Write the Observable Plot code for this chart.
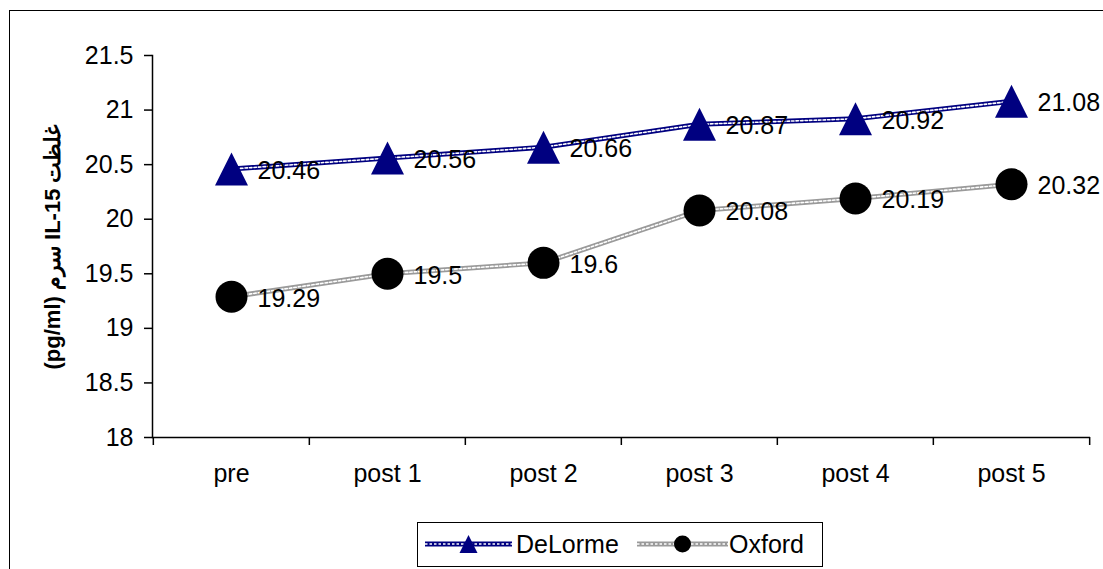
<!DOCTYPE html>
<html>
<head>
<meta charset="utf-8">
<script src="https://cdn.jsdelivr.net/npm/d3@7"></script>
<script src="https://cdn.jsdelivr.net/npm/@observablehq/plot@0.6"></script>
<style>
  html, body { margin: 0; padding: 0; background: #fff; overflow: hidden; }
  #wrap { position: relative; width: 1103px; height: 569px; overflow: hidden; font-family: "Liberation Sans", Arial, sans-serif; }
  #outer { position: absolute; left: 9px; top: 10px; width: 1200px; height: 700px; border: 1.5px solid #000; box-sizing: border-box; }
  #chart { position: absolute; left: 0; top: 0; }
  #legend { position: absolute; left: 417px; top: 522px; width: 406px; height: 45px; border: 1.5px solid #000; box-sizing: border-box; background: #fff; }
  #legend svg { position: absolute; left: 0; top: 0; }
</style>
</head>
<body>
<div id="wrap">
  <div id="outer"></div>
  <div id="chart"></div>
  <div id="legend"></div>
</div>
<script>
const categories = ["pre", "post 1", "post 2", "post 3", "post 4", "post 5"];
const seriesNames = ["DeLorme", "Oxford"];
const delormeValues = [20.46, 20.56, 20.66, 20.87, 20.92, 21.08];
const oxfordValues = [19.29, 19.5, 19.6, 20.08, 20.19, 20.32];
const yTicks = [18, 18.5, 19, 19.5, 20, 20.5, 21, 21.5];
const yLabel = "(pg/ml) سرم IL-15 غلظت";

const colors = { DeLorme: "#000080", Oxford: "#9a9a9a" };

const delorme = categories.map((c, i) => ({ cat: c, value: delormeValues[i], series: seriesNames[0] }));
const oxford = categories.map((c, i) => ({ cat: c, value: oxfordValues[i], series: seriesNames[1] }));

const W = 1103, H = 515;
const mL = 152, mR = 13, mT = 55, mB = H - 437;
const step = (W - mL - mR) / categories.length;

const triangle = {
  draw(context, size) {
    const s = Math.sqrt(size / Math.PI);
    context.moveTo(0, -s);
    context.lineTo(s, s);
    context.lineTo(-s, s);
    context.closePath();
  }
};

const font = "'Liberation Sans', Arial, sans-serif";

const chart = Plot.plot({
  width: W,
  height: H,
  marginLeft: mL,
  marginRight: mR,
  marginTop: mT,
  marginBottom: mB,
  style: { fontFamily: font, fontSize: "25px", color: "#000", background: "transparent" },
  x: { type: "band", domain: categories, padding: 0 },
  y: { domain: [18, 21.5] },
  marks: [
    Plot.ruleY([18], { stroke: "#000", strokeWidth: 1.5 }),
    Plot.frame({ anchor: "left", stroke: "#000", strokeWidth: 1.5 }),
    Plot.axisY(yTicks, { tickSize: 8, tickPadding: 11, fontSize: 25, label: null, strokeWidth: 1.5, tickFormat: d => String(d) }),
    Plot.axisX({ tickSize: 8, tickFormat: () => "", dx: -step / 2, label: null, strokeWidth: 1.5 }),
    Plot.axisX([categories[categories.length - 1]], { tickSize: 8, tickFormat: () => "", dx: step / 2, label: null, strokeWidth: 1.5 }),
    Plot.axisX({ tickSize: 0, tickPadding: 27, fontSize: 25, label: null }),
    Plot.text([yLabel], { frameAnchor: "left", dx: -100, rotate: -90, textAnchor: "middle", fontSize: 22, fontWeight: "bold", fill: "#000" }),
    // DeLorme line
    Plot.line(delorme, { x: "cat", y: "value", stroke: colors.DeLorme, strokeWidth: 5 }),
    Plot.line(delorme, { x: "cat", y: "value", stroke: "#fff", strokeWidth: 1.6, strokeDasharray: "2.5,2" }),
    // Oxford line
    Plot.line(oxford, { x: "cat", y: "value", stroke: colors.Oxford, strokeWidth: 5 }),
    Plot.line(oxford, { x: "cat", y: "value", stroke: "#fff", strokeWidth: 1.6, strokeDasharray: "2.5,2" }),
    Plot.dot(delorme, { x: "cat", y: "value", symbol: triangle, r: 16.5, fill: colors.DeLorme, stroke: null }),
    Plot.dot(oxford, { x: "cat", y: "value", r: 16, fill: "#000", stroke: null }),
    Plot.text(delorme, { x: "cat", y: "value", text: d => String(d.value), textAnchor: "start", dx: 26, dy: 2, fontSize: 25, fill: "#000" }),
    Plot.text(oxford, { x: "cat", y: "value", text: d => String(d.value), textAnchor: "start", dx: 26, dy: 2, fontSize: 25, fill: "#000" })
  ]
});
document.getElementById("chart").appendChild(chart);

// Legend
const lg = d3.select("#legend").append("svg").attr("width", 403).attr("height", 42)
  .style("font-family", font);
const items = [
  { name: seriesNames[0], x0: 7, x1: 94, sym: "triangle", tx: 98 },
  { name: seriesNames[1], x0: 219, x1: 310, sym: "circle", tx: 311 }
];
const cy = 21;
items.forEach(it => {
  const col = colors[it.name];
  lg.append("line").attr("x1", it.x0).attr("x2", it.x1).attr("y1", cy).attr("y2", cy)
    .attr("stroke", col).attr("stroke-width", 5);
  lg.append("line").attr("x1", it.x0).attr("x2", it.x1).attr("y1", cy).attr("y2", cy)
    .attr("stroke", "#fff").attr("stroke-width", 1.6).attr("stroke-dasharray", "2.5,2");
  const mx = (it.x0 + it.x1) / 2;
  if (it.sym === "triangle") {
    lg.append("path").attr("d", `M${mx},${cy - 9}L${mx + 9},${cy + 9}L${mx - 9},${cy + 9}Z`).attr("fill", col);
  } else {
    lg.append("circle").attr("cx", mx).attr("cy", cy).attr("r", 8.5).attr("fill", "#000");
  }
  lg.append("text").attr("x", it.tx).attr("y", cy).attr("dy", "0.35em").attr("font-size", 25)
    .attr("fill", "#000").text(it.name);
});
</script>
</body>
</html>
